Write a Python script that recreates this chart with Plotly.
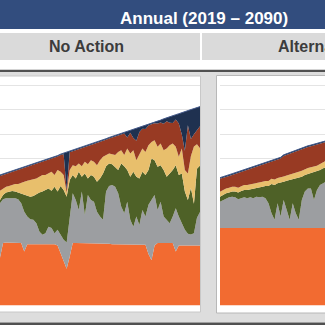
import plotly.graph_objects as go

W = H = 325

# ---------------- data: No Action (visible years 2024-2090) ----------------
years_na = list(range(2024, 2091))
na_orange = [1.95, 2.55, 2.57, 2.57, 2.57, 2.57, 2.57, 2.55, 2.20, 2.50,
             2.50, 2.50, 2.50, 2.50, 2.50, 2.50, 2.50, 2.50, 2.50, 2.45,
             2.15, 1.80, 1.50, 2.00, 2.55, 2.55, 2.55, 2.55, 2.55, 2.55,
             2.52, 2.52, 2.52, 2.52, 2.52, 2.52, 2.52, 2.50, 2.50, 2.50,
             2.50, 2.50, 2.50, 2.50, 2.50, 2.50, 2.50, 2.50, 2.48, 2.10,
             1.85, 2.45, 2.55, 2.55, 2.55, 2.55, 2.55, 2.55, 2.20, 2.45,
             2.45, 2.45, 2.45, 2.45, 2.45, 2.45, 2.45]
na_grey = [2.22, 1.79, 1.81, 1.81, 1.81, 1.81, 1.77, 1.62, 1.63, 1.13,
           1.02, 1.00, 0.86, 0.52, 0.39, 0.45, 0.72, 0.66, 0.45, 0.64,
           0.74, 0.88, 1.07, 1.63, 2.03, 1.76, 1.35, 2.10, 1.15, 1.96,
           1.79, 1.72, 1.31, 1.11, 0.98, 2.13, 2.36, 2.42, 2.35, 2.08,
           1.54, 1.27, 1.74, 1.00, 0.72, 1.13, 0.79, 1.40, 1.15, 2.01,
           2.46, 2.06, 1.35, 1.69, 1.08, 0.95, 0.81, 1.08, 1.77, 1.18,
           0.91, 0.64, 0.48, 0.45, 0.50, 1.13, 1.37]
na_green = [0.14, 0.17, 0.23, 0.27, 0.29, 0.27, 0.27, 0.41, 0.71, 0.88,
            0.92, 0.97, 1.19, 1.59, 1.76, 1.77, 1.56, 1.53, 1.90, 1.56,
            1.99, 2.04, 1.87, 1.49, 0.75, 0.88, 1.56, 0.61, 1.69, 0.68,
            1.02, 1.02, 1.22, 1.56, 1.89, 1.04, 0.92, 0.85, 0.81, 0.95,
            1.76, 1.92, 1.29, 1.76, 2.24, 1.63, 1.90, 1.56, 1.70, 1.42,
            1.69, 1.42, 1.76, 1.49, 1.90, 1.76, 2.03, 1.90, 1.76, 1.70,
            2.03, 1.56, 1.38, 1.90, 1.20, 2.00, 1.90]
na_yellow = [0.38, 0.27, 0.24, 0.23, 0.25, 0.31, 0.35, 0.41, 0.51, 0.58,
             0.68, 0.68, 0.64, 0.65, 0.68, 0.61, 0.61, 0.77, 0.48, 0.88,
             0.58, 0.61, 0.16, 0.41, 0.40, 0.50, 0.34, 0.43, 0.48, 0.58,
             0.60, 0.61, 0.68, 0.74, 0.68, 0.45, 0.41, 0.41, 0.48, 0.74,
             0.54, 0.45, 0.88, 0.95, 0.88, 0.67, 0.95, 0.95, 0.94, 1.01,
             0.68, 0.82, 0.82, 0.88, 0.81, 1.15, 1.15, 1.08, 0.75, 0.74,
             1.02, 0.88, 1.08, 1.30, 2.34, 1.00, 0.70]
na_red = [0.60, 0.55, 0.52, 0.53, 0.54, 0.54, 0.58, 0.59, 0.57, 0.57,
          0.59, 0.61, 0.61, 0.58, 0.55, 0.59, 0.57, 0.54, 0.71, 0.55,
          0.68, 0.85, 0.12, 0.73, 0.57, 0.65, 0.60, 0.75, 0.61, 0.75,
          0.63, 0.73, 0.91, 0.76, 0.66, 0.63, 0.61, 0.68, 0.76, 0.67,
          0.64, 0.88, 0.45, 0.84, 0.50, 0.80, 0.94, 0.81, 0.94, 0.81,
          0.72, 0.69, 0.95, 0.86, 1.08, 1.11, 0.92, 0.84, 1.11, 1.36,
          0.57, 0.79, 1.97, 0.70, 0.50, 0.60, 0.90]
na_navy = [0.04, 0.04, 0.04, 0.04, 0.04, 0.04, 0.04, 0.04, 0.04, 0.04,
           0.04, 0.04, 0.04, 0.04, 0.04, 0.04, 0.04, 0.04, 0.04, 0.04,
           0.04, 0.04, 1.54, 0.04, 0.04, 0.04, 0.04, 0.04, 0.04, 0.04,
           0.04, 0.04, 0.04, 0.04, 0.04, 0.04, 0.04, 0.04, 0.04, 0.04,
           0.04, 0.04, 0.25, 0.10, 0.35, 0.50, 0.20, 0.10, 0.15, 0.05,
           0.05, 0.05, 0.10, 0.10, 0.20, 0.15, 0.25, 0.30, 0.20, 0.40,
           0.90, 1.60, 0.60, 1.20, 1.05, 0.90, 0.80]

# ---------------- data: Alternative (visible years 2019-2055) ----------------
years_alt = list(range(2019, 2056))
alt_orange = [3.16] * 37
alt_grey = [1.08, 1.15, 1.22, 1.26, 1.28, 1.26, 1.18, 1.22, 1.26, 1.22,
            1.26, 1.22, 1.28, 1.26, 1.28, 1.22, 1.01, 0.61, 0.34, 1.01,
            0.47, 1.15, 0.74, 0.34, 1.01, 0.61, 0.34, 1.15, 1.49, 1.62,
            1.62, 1.15, 1.56, 1.76, 1.83, 1.89, 1.89]
alt_green = [0.20, 0.20, 0.20, 0.19, 0.21, 0.23, 0.27, 0.29, 0.30, 0.34,
             0.32, 0.40, 0.34, 0.40, 0.41, 0.50, 0.71, 1.19, 1.42, 0.82,
             1.38, 0.74, 1.19, 1.62, 0.98, 1.42, 1.72, 0.95, 0.68, 0.59,
             0.61, 1.11, 0.74, 0.61, 0.61, 0.61, 0.63]
alt_yellow = [0.20] * 17 + [0.22] * 8 + [0.24] * 5 + [0.25] * 7
alt_red = [0.53, 0.51, 0.47, 0.48, 0.48, 0.52, 0.60, 0.58, 0.58, 0.63,
           0.65, 0.65, 0.69, 0.69, 0.70, 0.72, 0.75, 0.69, 0.75, 0.72,
           0.77, 0.83, 0.84, 0.86, 0.88, 0.87, 0.89, 0.89, 0.86, 0.86,
           0.86, 0.87, 0.86, 0.83, 0.80, 0.78, 0.78]
alt_navy = [0.05] * 37

layer_names = ["Layer 1", "Layer 2", "Layer 3", "Layer 4", "Layer 5", "Layer 6"]
layer_colors = ["#F26B31", "#9C9EA1", "#4E6127", "#E8BF6C", "#983A23", "#1F3150"]

title_text = "Annual (2019 \u2013 2090)"
col_titles = ["No Action", "Alternative 1"]


def px(p):
    return p / W


def py(p):
    return 1 - p / H


fig = go.Figure()
for series, ax in (([na_orange, na_grey, na_green, na_yellow, na_red, na_navy], "na"),
                   ([alt_orange, alt_grey, alt_green, alt_yellow, alt_red, alt_navy], "alt")):
    xs = years_na if ax == "na" else years_alt
    for i, (name, vals, col) in enumerate(zip(layer_names, series, layer_colors)):
        top = i == len(series) - 1
        fig.add_trace(go.Scatter(
            x=xs, y=vals, name=name, mode="lines", stackgroup=ax,
            fillcolor=col,
            line=dict(width=1 if top else 0, color="#44598A" if top else col),
            xaxis="x" if ax == "na" else "x2",
            yaxis="y" if ax == "na" else "y2",
            showlegend=False, hoverinfo="skip"))

yaxis_common = dict(range=[0, 9.37], dtick=1, tick0=0, showgrid=True,
                    gridcolor="#E4E4E4", gridwidth=1, zeroline=False,
                    showline=False, showticklabels=False, ticks="",
                    domain=[py(305.5), py(76)])

shapes = [
    dict(type="rect", xref="paper", yref="paper", x0=0, x1=1, y0=py(29), y1=1,
         fillcolor="#324D7E", line_width=0, layer="below"),
    dict(type="rect", xref="paper", yref="paper", x0=0, x1=1, y0=py(60), y1=py(33),
         fillcolor="#DADADA", line_width=0, layer="below"),
    dict(type="line", xref="paper", yref="paper", x0=px(201), x1=px(201), y0=py(60), y1=py(33),
         line=dict(color="#FFFFFF", width=2), layer="below"),
    dict(type="rect", xref="paper", yref="paper", x0=0, x1=1, y0=py(322.5), y1=py(71.5),
         fillcolor="#DDDDDD", line_width=0, layer="below"),
    dict(type="rect", xref="paper", yref="paper", x0=0, x1=1, y0=py(72), y1=py(69.8),
         fillcolor="#505050", line_width=0, layer="below"),
    dict(type="rect", xref="paper", yref="paper", x0=0, x1=1, y0=0, y1=py(322.5),
         fillcolor="#505050", line_width=0, layer="below"),
    dict(type="rect", xref="paper", yref="paper", x0=px(-5), x1=px(200.5), y0=py(312), y1=py(76),
         fillcolor="#FFFFFF", line=dict(color="#C8C8C8", width=1), layer="below"),
    dict(type="rect", xref="paper", yref="paper", x0=px(216.5), x1=px(340), y0=py(313), y1=py(75.5),
         fillcolor="#FFFFFF", line=dict(color="#B8B8B8", width=1), layer="below"),
]

font_family = "Liberation Sans, Arial, sans-serif"
annotations = [
    dict(text="<b>" + title_text + "</b>", xref="paper", yref="paper", x=px(204), y=py(19),
         xanchor="center", yanchor="middle", showarrow=False,
         font=dict(family=font_family, size=17, color="#FFFFFF")),
    dict(text="<b>" + col_titles[0] + "</b>", xref="paper", yref="paper", x=px(86), y=py(47),
         xanchor="center", yanchor="middle", showarrow=False,
         font=dict(family=font_family, size=16, color="#3C3C3C")),
    dict(text="<b>" + col_titles[1] + "</b>", xref="paper", yref="paper", x=px(276), y=py(47),
         xanchor="left", yanchor="middle", showarrow=False,
         font=dict(family=font_family, size=16, color="#3C3C3C")),
]

fig.update_layout(
    width=W, height=H, autosize=False,
    margin=dict(l=0, r=0, t=0, b=0, pad=0),
    paper_bgcolor="#FFFFFF", plot_bgcolor="rgba(0,0,0,0)",
    showlegend=False,
    xaxis=dict(domain=[0, px(200)], range=[2024, 2090], visible=False, anchor="y"),
    yaxis=dict(anchor="x", **yaxis_common),
    xaxis2=dict(domain=[px(220), 1], range=[2019, 2053.65], visible=False, anchor="y2"),
    yaxis2=dict(anchor="x2", **yaxis_common),
    shapes=shapes,
    annotations=annotations,
)

fig.write_html("out.html", config={"displayModeBar": False})
